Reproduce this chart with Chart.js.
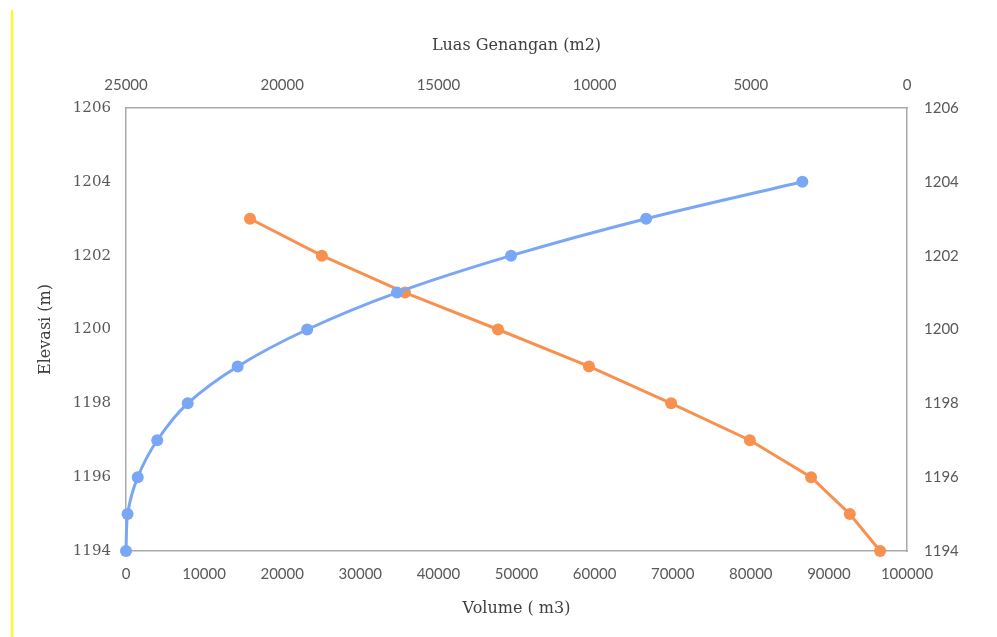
<!DOCTYPE html>
<html>
<head>
<meta charset="utf-8">
<script src="https://cdn.jsdelivr.net/npm/chart.js@4.4.1/dist/chart.umd.min.js"></script>
<style>
html,body{margin:0;padding:0;background:#fff;}
#wrap{position:relative;width:997px;height:637px;}
#edge{position:absolute;left:11px;top:10px;bottom:0;width:2px;background:#ffff00;}
</style>
</head>
<body>
<div id="wrap">
<canvas id="chart" width="997" height="637"></canvas>
<div id="edge"></div>
</div>
<script>
/* elevation levels (m) */
const elevasi = [1194,1195,1196,1197,1198,1199,1200,1201,1202,1203,1204];
/* volume (m3) - bottom axis */
const volume = [0,200,1500,4000,7900,14300,23200,34700,49300,66600,86600];
/* luas genangan (m2) - top axis, reversed */
const elevasiLuas = [1194,1195,1196,1197,1198,1199,1200,1201,1202,1203];
const luas = [860,1830,3070,5030,7550,10180,13090,16070,18730,21030];

const volumeTicks = [0,10000,20000,30000,40000,50000,60000,70000,80000,90000,100000];
const luasTicks = [0,5000,10000,15000,20000,25000];
const elevTicks = [1194,1196,1198,1200,1202,1204,1206];

const blue = "#7aa6f6";
const orange = "#f8914f";
const axisCol = "#a9a9a9";
const textCol = "#595959";

const serif = "'DejaVu Serif', serif";
const sans = "Lato, 'Liberation Sans', sans-serif";

function fixTicks(list){
return function(axis){
axis.ticks = list.map(v=>({value:v}));
};
}
const plain = (v)=> String(v);

const ctx = document.getElementById("chart");

new Chart(ctx,{
type:"line",
data:{
datasets:[{
label:"Volume",
data: volume.map((v,i)=>({x:v,y:elevasi[i]})),
xAxisID:"x",
yAxisID:"y",
borderColor:blue,
backgroundColor:blue,
borderWidth:3,
pointRadius:6,
pointBorderWidth:0,
tension:0.35,
clip:false,
fill:false
},{
label:"Luas Genangan",
data: luas.map((v,i)=>({x:v,y:elevasiLuas[i]})),
xAxisID:"x2",
yAxisID:"y",
borderColor:orange,
backgroundColor:orange,
borderWidth:3,
pointRadius:6,
pointBorderWidth:0,
tension:0,
clip:false,
fill:false
}]
},
options:{
responsive:false,
animation:false,
layout:{padding:0},
plugins:{
legend:{display:false},
tooltip:{enabled:false}
},
scales:{
x:{
type:"linear",
position:"bottom",
min:0,max:100000,
afterBuildTicks:fixTicks(volumeTicks),
afterFit:(s)=>{s.height=86;},
grid:{display:false,drawTicks:false},
border:{display:true,color:axisCol,width:1.5},
ticks:{color:textCol,padding:14,maxRotation:0,autoSkip:false,callback:plain,font:{family:sans,size:15}},
title:{display:true,text:"Volume ( m3)",color:"#404040",font:{family:serif,size:16},padding:{top:0,bottom:19}}
},
x2:{
type:"linear",
position:"top",
min:0,max:25000,
reverse:true,
afterBuildTicks:fixTicks(luasTicks),
afterFit:(s)=>{s.height=108;},
grid:{display:false,drawTicks:false},
border:{display:true,color:axisCol,width:1.5},
ticks:{color:textCol,padding:14,maxRotation:0,autoSkip:false,callback:plain,font:{family:sans,size:15}},
title:{display:true,text:"Luas Genangan (m2)",color:"#404040",font:{family:serif,size:16},padding:{top:36,bottom:0}}
},
y:{
type:"linear",
position:"left",
min:1194,max:1206,
afterBuildTicks:fixTicks(elevTicks),
afterFit:(s)=>{s.width=126;},
grid:{display:false,drawTicks:false},
border:{display:true,color:axisCol,width:1.5},
ticks:{color:textCol,padding:15,callback:plain,font:{family:serif,size:15}},
title:{display:true,text:"Elevasi (m)",color:"#404040",font:{family:serif,size:16},padding:{top:36,bottom:0}}
},
y2:{
type:"linear",
position:"right",
min:1194,max:1206,
afterBuildTicks:fixTicks(elevTicks),
afterFit:(s)=>{s.width=90;},
grid:{display:false,drawTicks:false},
border:{display:true,color:axisCol,width:1.5},
ticks:{color:textCol,padding:17,callback:plain,font:{family:sans,size:15}}
}
}
}
});
</script>
</body>
</html>
